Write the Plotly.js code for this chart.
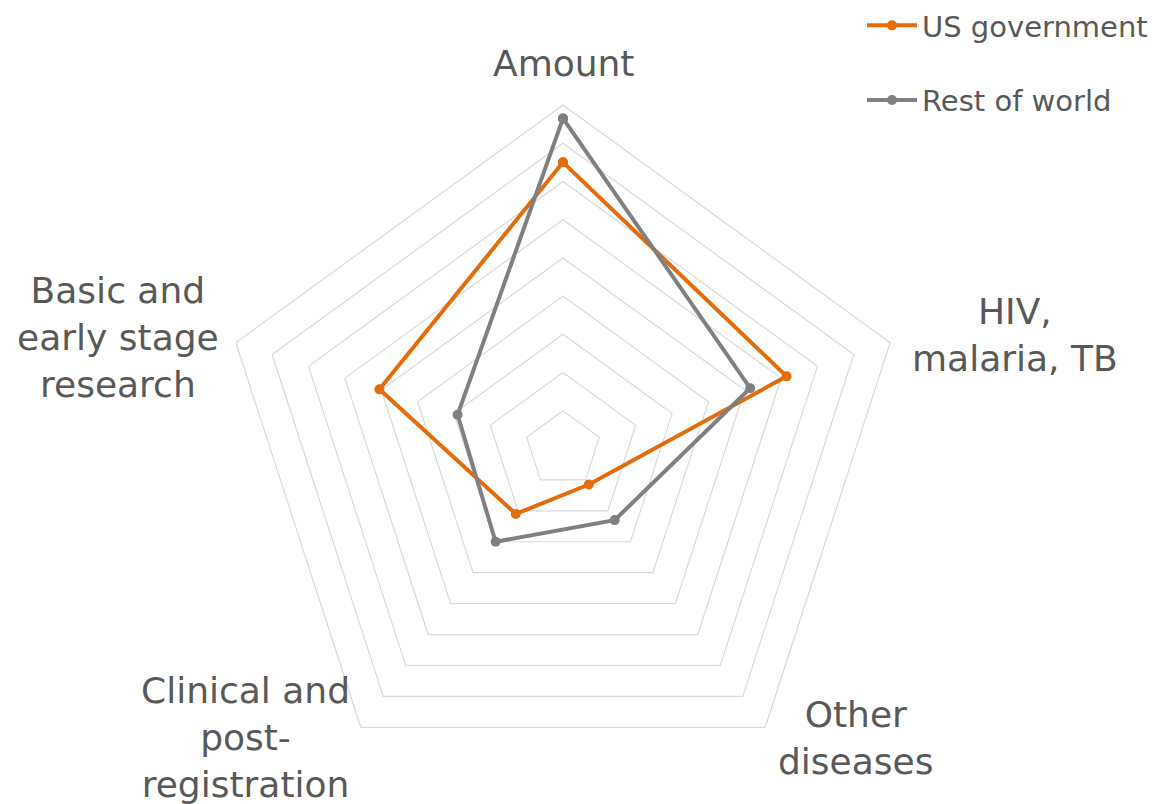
<!DOCTYPE html>
<html>
<head>
<meta charset="utf-8">
<script src="https://cdn.plot.ly/plotly-3.0.1.min.js"></script>
<style>
  html, body { margin: 0; padding: 0; background: #ffffff; }
  #chart { width: 1163px; height: 804px; }
</style>
</head>
<body>
<div id="chart"></div>
<script>
// ---- data ----
const categories = ["Amount", "HIV, malaria, TB", "Other diseases", "Clinical and post-registration", "Basic and early stage research"];
const tickLabels = ["Amount", "HIV,<br>malaria, TB", "Other<br>diseases", "Clinical and<br>post-<br>registration", "Basic and<br>early stage<br>research"];
const usGovernment = [7.5, 6.15, 1.15, 2.1, 5.05];
const restOfWorld = [8.65, 5.15, 2.3, 3.0, 2.9];
const seriesNames = ["US government", "Rest of world"];

// ---- build ----
function closed(arr) { return arr.concat([arr[0]]); }

const W = 1163, H = 804;
const cx = 563, cy = 449, R = 344;

const traces = [
  {
    type: "scatterpolar",
    name: seriesNames[0],
    legendgroup: "a",
    r: closed(usGovernment),
    theta: closed(categories),
    mode: "lines+markers",
    line: { color: "#E46C0A", width: 4 },
    marker: { color: "#E46C0A", size: 10 }
  },
  {
    type: "scatterpolar",
    name: seriesNames[1],
    legendgroup: "b",
    r: closed(restOfWorld),
    theta: closed(categories),
    mode: "lines+markers",
    line: { color: "#808080", width: 4 },
    marker: { color: "#808080", size: 10 }
  }
];

// label placement (paper px) for the category annotations
const labelPos = [
  { x: 563, y: 63 },
  { x: 1015, y: 335 },
  { x: 855, y: 738 },
  { x: 245, y: 737 },
  { x: 118, y: 337 }
];

const annotations = tickLabels.map((t, i) => ({
  text: t,
  xref: "paper", yref: "paper",
  x: labelPos[i].x / W,
  y: 1 - labelPos[i].y / H,
  xanchor: "center", yanchor: "middle",
  align: "center",
  showarrow: false,
  font: { family: "DejaVu Sans, Verdana, sans-serif", size: 36, color: "#595959" }
}));

const layout = {
  width: W, height: H,
  margin: { l: 0, r: 0, t: 0, b: 0 },
  paper_bgcolor: "#ffffff",
  showlegend: true,
  legend: {
    x: 862 / W, y: 1, xanchor: "left", yanchor: "top",
    font: { family: "DejaVu Sans, Verdana, sans-serif", size: 29, color: "#595959" },
    tracegroupgap: 34,
    itemwidth: 50,
    bgcolor: "rgba(0,0,0,0)"
  },
  polar: {
    domain: { x: [(cx - R) / W, (cx + R) / W], y: [1 - (cy + R) / H, 1 - (cy - R) / H] },
    bgcolor: "#ffffff",
    gridshape: "linear",
    radialaxis: {
      range: [0, 9], dtick: 1, tick0: 0,
      showticklabels: false, ticks: "",
      showline: false,
      gridcolor: "#D9D9D9", gridwidth: 1.2
    },
    angularaxis: {
      type: "category",
      categoryarray: categories,
      rotation: 90, direction: "clockwise",
      showticklabels: false, ticks: "",
      showgrid: false,
      showline: true, linecolor: "#D9D9D9", linewidth: 1.2
    }
  },
  annotations: annotations
};

Plotly.newPlot("chart", traces, layout, { displayModeBar: false, staticPlot: true });
</script>
</body>
</html>
